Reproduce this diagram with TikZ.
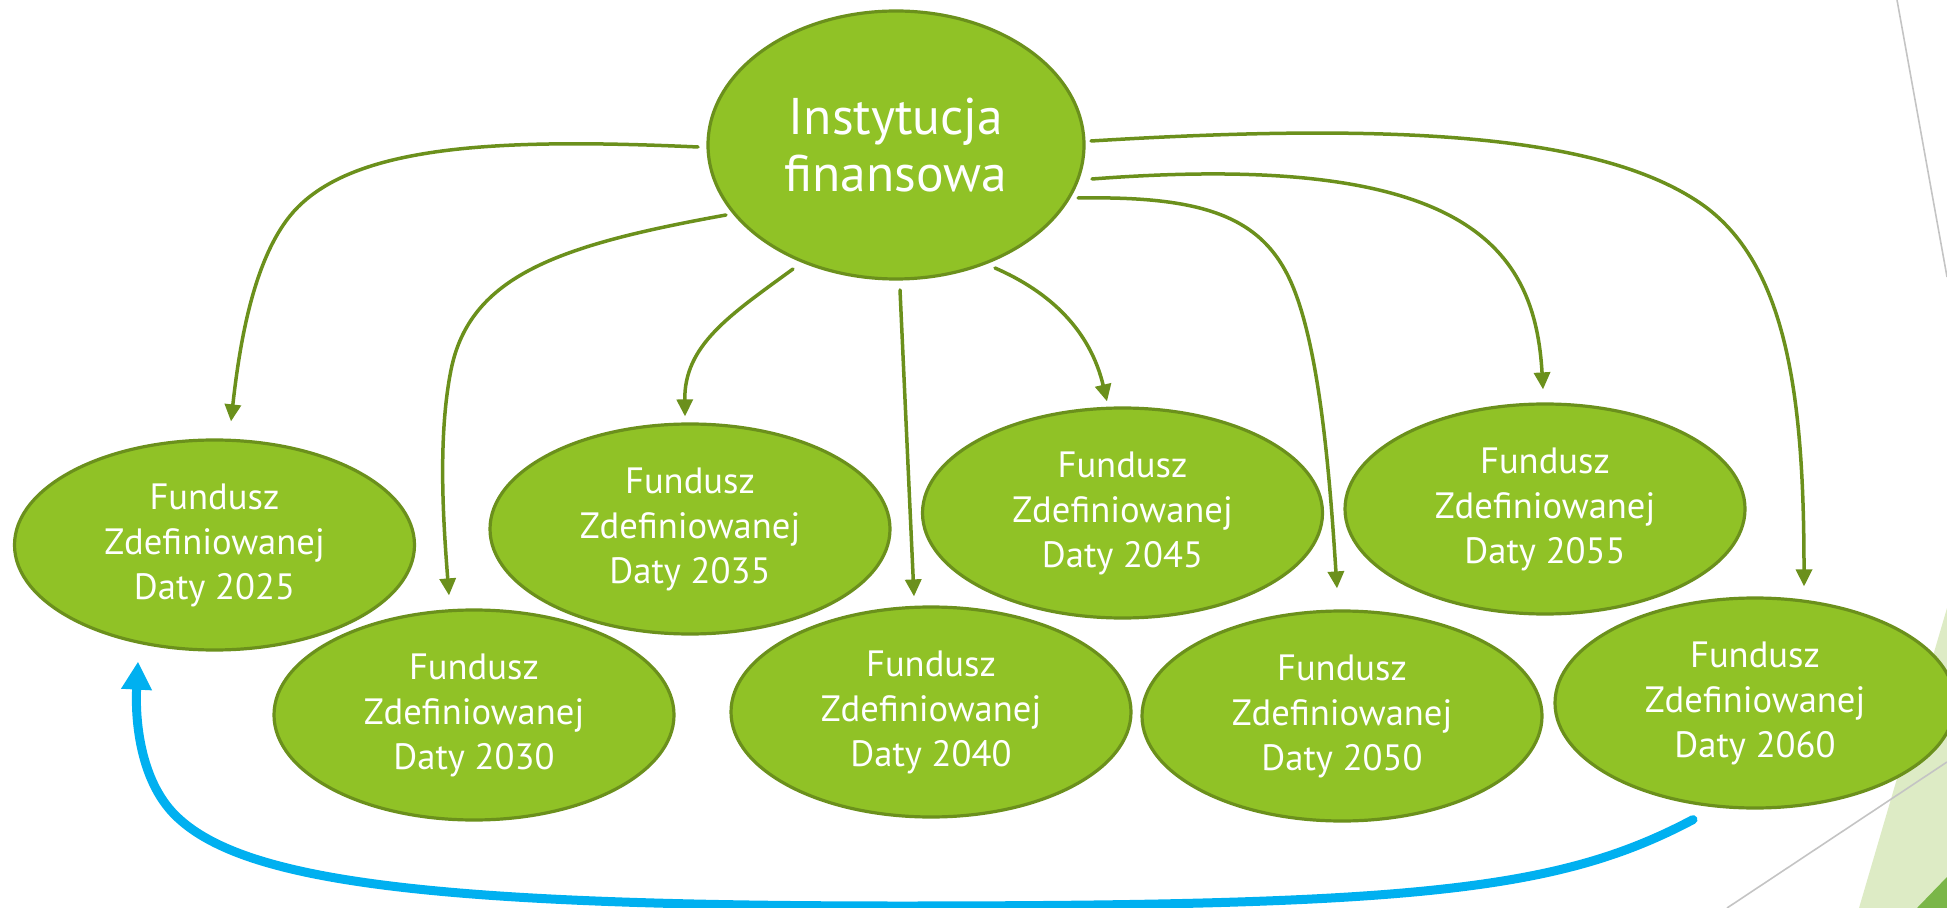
\documentclass[tikz,border=0pt]{standalone}
\usepackage{fontspec}
\setmainfont{PT Sans}
\usetikzlibrary{shapes.geometric,arrows.meta,calc}
\definecolor{fillg}{HTML}{90C226}
\definecolor{lineg}{HTML}{6B901C}
\definecolor{bluea}{HTML}{00B0F0}
\definecolor{lightg}{HTML}{DDEBC5}
\definecolor{midg}{HTML}{7AB648}
\definecolor{greyl}{HTML}{C4C4C4}
\tikzset{
  fund/.style={ellipse, draw=lineg, line width=1.6pt, fill=fillg, text=white,
    minimum width=200pt, minimum height=105pt, inner sep=0pt, align=center,
    font=\fontsize{18.3}{22.5}\selectfont},
  inst/.style={ellipse, draw=lineg, line width=1.6pt, fill=fillg, text=white,
    minimum width=188pt, minimum height=134pt, inner sep=0pt, align=center,
    font=\fontsize{25.8}{28.5}\selectfont},
  arr/.style={draw=lineg, line width=1.75pt, line cap=round,
    -{Triangle[width=8pt,length=8.5pt]}},
  barr/.style={draw=bluea, line width=4.5pt, line cap=round,
    -{Triangle[width=14.5pt,length=14pt]}},
}
\begin{document}
\begin{tikzpicture}[x=0.5pt,y=-0.5pt]
\useasboundingbox (0,0) rectangle (1947,908);
\clip (0,0) rectangle (1947,908);
% background decorations
\fill[lightg] (1947,608) -- (1859,908) -- (1947,908) -- cycle;
\fill[midg] (1947,877) -- (1917,908) -- (1947,908) -- cycle;
\draw[greyl, line width=0.8pt] (1897,0) -- (1947,277);
\draw[greyl, line width=0.8pt] (1727,908) -- (1947,762);
% nodes
\node[inst] (c) at (896,145) {Instytucja\\finansowa};
\node[fund] (f25) at (214.5,545) {Fundusz\\Zdefiniowanej\\Daty 2025};
\node[fund] (f30) at (474,715) {Fundusz\\Zdefiniowanej\\Daty 2030};
\node[fund] (f35) at (690,529) {Fundusz\\Zdefiniowanej\\Daty 2035};
\node[fund] (f40) at (931,712) {Fundusz\\Zdefiniowanej\\Daty 2040};
\node[fund] (f45) at (1122.5,513) {Fundusz\\Zdefiniowanej\\Daty 2045};
\node[fund] (f50) at (1342,716) {Fundusz\\Zdefiniowanej\\Daty 2050};
\node[fund] (f55) at (1545,509) {Fundusz\\Zdefiniowanej\\Daty 2055};
\node[fund] (f60) at (1755,703) {Fundusz\\Zdefiniowanej\\Daty 2060};
% connectors
\draw[arr] ($(c)+(-198,2)$) .. controls (500,138) and (360,145) .. (298,207)
  .. controls (255,250) and (240,340) .. ($(f25.north)+(16.5,-17)$);
\draw[arr] ($(c)+(-170,70)$) .. controls (560,245) and (470,275) .. (451,370)
  .. controls (437,440) and (444,530) .. ($(f30.north)+(-25,-13)$);
\draw[arr] ($(c)+(-103,124)$) .. controls (730,315) and (684,345) .. ($(f35.north)+(-5,-6)$);
\draw[arr] ($(c)+(4,145)$) -- ($(f40.north)+(-17,-9)$);
\draw[arr] ($(c)+(99,123)$) .. controls (1050,292) and (1090,330) .. ($(f45.north)+(-15.5,-5)$);
\draw[arr] ($(c)+(182,53)$) .. controls (1200,196) and (1260,215) .. (1290,280)
  .. controls (1320,345) and (1330,480) .. ($(f50.north)+(-5,-21)$);
\draw[arr] ($(c)+(196,34)$) .. controls (1470,150) and (1535,250) .. ($(f55.north)+(-2,-13)$);
\draw[arr] ($(c)+(195,-4)$) .. controls (1400,122) and (1600,135) .. (1700,203)
  .. controls (1788,263) and (1804,400) .. ($(f60.north)+(49,-10)$);
\draw[barr] ($(f60.south)+(-62,10)$) .. controls (1560,890) and (1420,906) .. (900,906)
  .. controls (420,906) and (240,880) .. (175,815)
  .. controls (140,780) and (135,720) .. ($(f25.south)+(-76.5,10)$);
\end{tikzpicture}
\end{document}
